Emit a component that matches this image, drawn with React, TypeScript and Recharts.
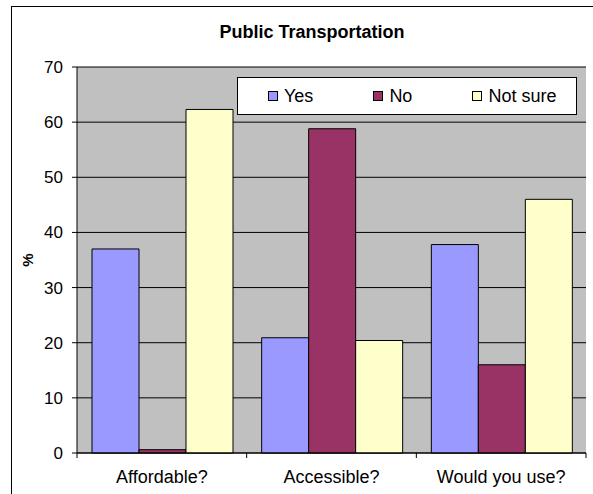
import { Bar, BarChart, CartesianGrid, Legend, XAxis, YAxis } from "recharts";

const categories = ["Affordable?", "Accessible?", "Would you use?"];
const yesValues = [37, 20.9, 37.8];
const noValues = [0.6, 58.8, 16];
const notSureValues = [62.3, 20.4, 46];
const yTicks = [0, 10, 20, 30, 40, 50, 60, 70];
const seriesOrder = ["yes", "no", "notSure"];

const data = categories.map((category, i) => ({
  category,
  yes: yesValues[i],
  no: noValues[i],
  notSure: notSureValues[i],
}));

const font = '"Liberation Sans", Arial, sans-serif';
const LABEL_GAP = 17;

// category label plus the tick marks on the band edges, like Excel draws them
function CategoryTick(props: any) {
  const { x, y, payload, index } = props;
  const half = payload?.offset ?? 0;
  const axisY = y - LABEL_GAP;
  return (
    <g>
      {index === 0 && (
        <line x1={x - half} x2={x - half} y1={axisY} y2={axisY + 5} stroke="#000" />
      )}
      <line x1={x + half} x2={x + half} y1={axisY} y2={axisY + 5} stroke="#000" />
      <text
        x={x}
        y={y}
        dy="0.71em"
        textAnchor="middle"
        fill="#000"
        fontSize={18}
        fontFamily={font}
      >
        {payload.value}
      </text>
    </g>
  );
}

function LegendBox({ payload }: { payload?: any[] }) {
  const items = [...(payload || [])].sort(
    (a, b) => seriesOrder.indexOf(a.dataKey) - seriesOrder.indexOf(b.dataKey)
  );
  return (
    <div
      style={{
        boxSizing: "border-box",
        width: 340,
        height: 38,
        border: "1px solid #000",
        background: "#fff",
        display: "flex",
        alignItems: "center",
        paddingLeft: 30,
        gap: 60,
        fontFamily: font,
        fontSize: 18,
        color: "#000",
      }}
    >
      {items.map((entry) => (
        <div key={entry.value} style={{ display: "flex", alignItems: "center" }}>
          <span
            style={{
              boxSizing: "border-box",
              width: 10,
              height: 10,
              border: "1px solid #000",
              background: entry.color,
              marginRight: 6,
            }}
          />
          <span>{entry.value}</span>
        </div>
      ))}
    </div>
  );
}

export default function App() {
  return (
    <div
      style={{
        position: "absolute",
        left: 0,
        top: 0,
        width: 593,
        height: 494,
        overflow: "hidden",
        background: "#fff",
        fontFamily: font,
      }}
    >
      <div
        style={{
          position: "absolute",
          left: 11,
          top: 6,
          width: 620,
          height: 520,
          border: "1px solid #000",
        }}
      />
      <div
        style={{
          position: "absolute",
          left: 0,
          top: 22,
          width: 624,
          textAlign: "center",
          fontWeight: "bold",
          fontSize: 18,
          color: "#000",
        }}
      >
        Public Transportation
      </div>
      <div style={{ position: "absolute", left: 0, top: 0 }}>
        <BarChart
          width={593}
          height={494}
          data={data}
          margin={{ top: 67, right: 7, bottom: 11, left: 0 }}
          barCategoryGap={15}
          barGap={0}
        >
          <CartesianGrid
            vertical={false}
            fill="#C0C0C0"
            fillOpacity={1}
            stroke="#000"
          />
          <XAxis
            dataKey="category"
            interval={0}
            tickLine={false}
            axisLine={{ stroke: "#000" }}
            tickSize={0}
            tickMargin={LABEL_GAP}
            height={30}
            tick={<CategoryTick />}
          />
          <YAxis
            domain={[0, 70]}
            ticks={yTicks}
            width={77}
            tickSize={5}
            tickMargin={9}
            axisLine={{ stroke: "#000" }}
            tickLine={{ stroke: "#000" }}
            tick={{ fill: "#000", fontSize: 17, fontFamily: font }}
            label={{
              value: "%",
              angle: -90,
              position: "center",
              dx: -11,
              fill: "#000",
              fontSize: 15,
              fontWeight: "bold",
              fontFamily: font,
            }}
          />
          <YAxis
            yAxisId="right"
            orientation="right"
            domain={[0, 70]}
            width={0}
            tick={false}
            tickLine={false}
            axisLine={{ stroke: "#808080" }}
          />
          <Legend
            layout="horizontal"
            verticalAlign="middle"
            align="center"
            content={<LegendBox />}
            wrapperStyle={{ left: 237, top: 77, width: 340, height: 38 }}
          />
          <Bar dataKey="yes" name="Yes" fill="#9999FF" stroke="#000" strokeWidth={1} isAnimationActive={false} />
          <Bar dataKey="no" name="No" fill="#993366" stroke="#000" strokeWidth={1} isAnimationActive={false} />
          <Bar dataKey="notSure" name="Not sure" fill="#FFFFCC" stroke="#000" strokeWidth={1} isAnimationActive={false} />
        </BarChart>
      </div>
    </div>
  );
}
